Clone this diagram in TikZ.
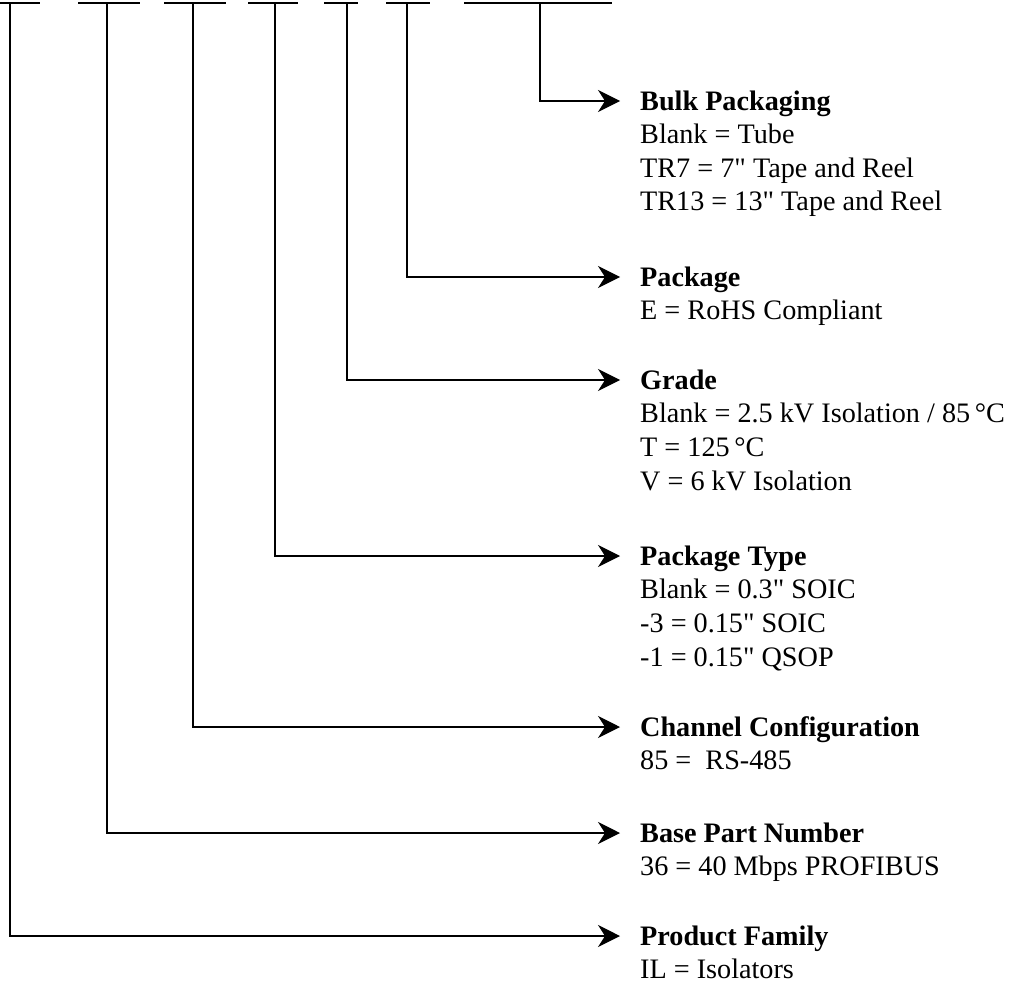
\documentclass[tikz,border=0pt]{standalone}
\usepackage{fontspec}
\setmainfont{Liberation Serif}[Ligatures=TeXOff]
\usetikzlibrary{arrows.meta}
\begin{document}
\begin{tikzpicture}[x=1pt,y=-1pt,
  wire/.style={line width=1.2pt},
  arr/.style={wire,-{Stealth[length=22pt,width=22pt,inset=7pt]}},
  lbl/.style={anchor=north west,inner sep=0pt,align=left,font=\fontsize{28.2}{33.6}\selectfont}]
\useasboundingbox (0,0) rectangle (1011,984);
% top segments
\draw[wire] (0,3) -- (40,3);
\draw[wire] (78,3) -- (140,3);
\draw[wire] (164,3) -- (226,3);
\draw[wire] (248,3) -- (298,3);
\draw[wire] (324,3) -- (358,3);
\draw[wire] (386,3) -- (430,3);
\draw[wire] (464,3) -- (612,3);
% top coordinates
\coordinate (s7) at (540,3);
\coordinate (s6) at (407,3);
\coordinate (s5) at (347,3);
\coordinate (s4) at (275,3);
\coordinate (s3) at (193,3);
\coordinate (s2) at (107,3);
\coordinate (s1) at (10,3);
% corner coordinates
\coordinate (c7) at (540,101);
\coordinate (c6) at (407,277);
\coordinate (c5) at (347,380);
\coordinate (c4) at (275,556);
\coordinate (c3) at (193,727);
\coordinate (c2) at (107,833);
\coordinate (c1) at (10,936);
% arrow tips
\coordinate (e7) at (620,101);
\coordinate (e6) at (620,277);
\coordinate (e5) at (620,380);
\coordinate (e4) at (620,556);
\coordinate (e3) at (620,727);
\coordinate (e2) at (620,833);
\coordinate (e1) at (620,936);
% labels (first baseline = arrow y + 9)
\node[lbl] (l7) at (640,90) {\rule{0pt}{20pt}\textbf{Bulk Packaging}\\Blank = Tube\\TR7 = 7" Tape and Reel\\TR13 = 13" Tape and Reel};
\node[lbl] (l6) at (640,266) {\rule{0pt}{20pt}\textbf{Package}\\E = RoHS Compliant};
\node[lbl] (l5) at (640,369) {\rule{0pt}{20pt}\textbf{Grade}\\Blank = 2.5 kV Isolation / 85\,°C\\T = 125\,°C\\V = 6 kV Isolation};
\node[lbl] (l4) at (640,545) {\rule{0pt}{20pt}\textbf{Package Type}\\Blank = 0.3" SOIC\\-3 = 0.15" SOIC\\-1 = 0.15" QSOP};
\node[lbl] (l3) at (640,716) {\rule{0pt}{20pt}\textbf{Channel Configuration}\\85 =\ \ RS-485};
\node[lbl] (l2) at (640,822) {\rule{0pt}{20pt}\textbf{Base Part Number}\\36 = 40 Mbps PROFIBUS};
\node[lbl] (l1) at (640,925) {\rule{0pt}{20pt}\textbf{Product Family}\\IL = Isolators};
% connectors
\foreach \i in {1,...,7} {
  \draw[arr] (s\i) -- (c\i) -- (e\i);
}
\end{tikzpicture}
\end{document}
